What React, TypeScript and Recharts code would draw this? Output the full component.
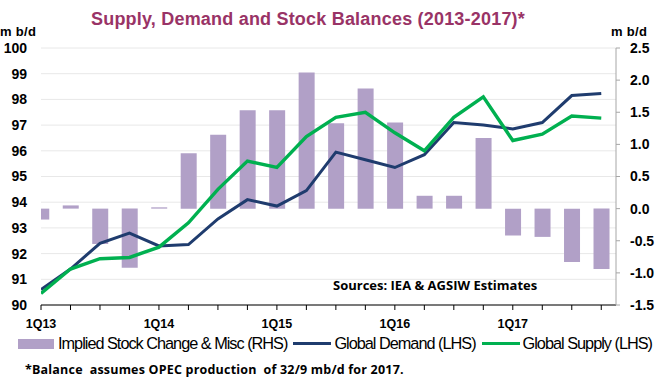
// Supply, demand and stock balances, 2013-2017: quarterly implied stock change
// bars on the right axis with global demand and supply lines on the left axis.

import { ComposedChart, Bar, Line, XAxis, YAxis, CartesianGrid } from "recharts";

const QUARTERS = [
  "1Q13", "2Q13", "3Q13", "4Q13",
  "1Q14", "2Q14", "3Q14", "4Q14",
  "1Q15", "2Q15", "3Q15", "4Q15",
  "1Q16", "2Q16", "3Q16", "4Q16",
  "1Q17", "2Q17", "3Q17", "4Q17",
];

const STOCK_CHANGE = [
  -0.17, 0.05, -0.55, -0.92,
  0.02, 0.86, 1.15, 1.53,
  1.53, 2.12, 1.33, 1.87,
  1.34, 0.2, 0.2, 1.1,
  -0.42, -0.44, -0.83, -0.94,
];

const DEMAND = [
  90.6, 91.4, 92.4, 92.8,
  92.3, 92.35, 93.35, 94.1,
  93.85, 94.45, 95.95, 95.65,
  95.35, 95.85, 97.1, 97.0,
  96.85, 97.1, 98.15, 98.23,
];

const SUPPLY = [
  90.45, 91.4, 91.8, 91.85,
  92.25, 93.2, 94.5, 95.6,
  95.35, 96.55, 97.3, 97.5,
  96.7, 96.0, 97.3, 98.1,
  96.4, 96.65, 97.35, 97.27,
];

const LEFT_TICKS = [90, 91, 92, 93, 94, 95, 96, 97, 98, 99, 100];
const RIGHT_TICKS = [-1.5, -1.0, -0.5, 0, 0.5, 1.0, 1.5, 2.0, 2.5];
const X_TICKS = QUARTERS.map((_, i) => i);

const data = QUARTERS.map((q, i) => ({
  i,
  quarter: q,
  stock: STOCK_CHANGE[i],
  demand: DEMAND[i],
  supply: SUPPLY[i],
}));

const BAR = "#b1a0c7";
const NAVY = "#1f3c6e";
const GREEN = "#00b050";
const AXIS_FONT = "'Liberation Sans', Arial, sans-serif";
const NOTE_FONT = "'Open Sans', 'Noto Sans', sans-serif";

const SERIES = [
  { key: "stock", label: "Implied Stock Change & Misc (RHS)", color: BAR, kind: "bar" },
  { key: "demand", label: "Global Demand (LHS)", color: NAVY, kind: "line" },
  { key: "supply", label: "Global Supply (LHS)", color: GREEN, kind: "line" },
] as const;

function ChartLegend() {
  return (
    <div style={{ position: "absolute", left: 18, top: 334, display: "flex", alignItems: "center", fontFamily: AXIS_FONT, fontSize: 16.3, letterSpacing: -1, color: "#000", whiteSpace: "nowrap" }}>
      {SERIES.map((s) => (
        <span key={s.key} style={{ display: "inline-flex", alignItems: "center", marginRight: 6 }}>
          {s.kind === "bar" ? (
            <span style={{ width: 36, height: 10, background: s.color, marginRight: 4 }} />
          ) : (
            <span style={{ width: 38, height: 3.5, background: s.color, marginRight: 3 }} />
          )}
          {s.label}
        </span>
      ))}
    </div>
  );
}

export default function App() {
  return (
    <div style={{ position: "absolute", left: 0, top: 0, width: 658, height: 385, background: "#fff" }}>
      <div style={{ position: "absolute", left: 0, top: 9, width: 616, textAlign: "center", fontFamily: AXIS_FONT, fontWeight: 700, fontSize: 18, letterSpacing: 0.2, color: "#993366" }}>
        Supply, Demand and Stock Balances (2013-2017)*
      </div>
      <div style={{ position: "absolute", left: 0, top: 24, fontFamily: AXIS_FONT, fontWeight: 700, fontSize: 13, letterSpacing: 0.3 }}>m b/d</div>
      <div style={{ position: "absolute", left: 611, top: 24, fontFamily: AXIS_FONT, fontWeight: 700, fontSize: 13, letterSpacing: 0.3 }}>m b/d</div>
      <div style={{ position: "absolute", left: 333, top: 276, fontFamily: NOTE_FONT, fontWeight: 700, fontSize: 13, letterSpacing: 0 }}>
        Sources: IEA &amp; AGSIW Estimates
      </div>
      <div style={{ position: "absolute", left: 25, top: 361, fontFamily: NOTE_FONT, fontWeight: 700, fontSize: 12.5, letterSpacing: 0.2, whiteSpace: "pre" }}>
        {"*Balance  assumes OPEC production  of 32/9 mb/d for 2017."}
      </div>
      <ChartLegend />
      <ComposedChart width={658} height={385} data={data} margin={{ top: 48, right: 0, bottom: 50, left: 0 }}>
        <CartesianGrid yAxisId="left" horizontal vertical={false} stroke="#e8e8e8" />
        <XAxis
          dataKey="i"
          type="number"
          domain={[0, 19.5]}
          ticks={X_TICKS}
          allowDataOverflow
          interval={0}
          height={30}
          tickSize={5}
          tickMargin={9}
          stroke="#000"
          tickFormatter={(v: number) => (v % 4 === 0 ? QUARTERS[v] : "")}
          tick={{ fontSize: 12.5, fontWeight: 700, fill: "#000", fontFamily: AXIS_FONT }}
        />
        <YAxis
          yAxisId="left"
          orientation="left"
          domain={[90, 100]}
          ticks={LEFT_TICKS}
          width={41}
          axisLine={false}
          tickLine={false}
          tickSize={0}
          tickMargin={14}
          tick={{ fontSize: 14, fontWeight: 700, fill: "#000", fontFamily: AXIS_FONT }}
        />
        <YAxis
          yAxisId="right"
          orientation="right"
          domain={[-1.5, 2.5]}
          ticks={RIGHT_TICKS}
          width={42}
          stroke="#a6a6a6"
          tickSize={4}
          tickMargin={10}
          tickFormatter={(v: number) => v.toFixed(1)}
          tick={{ fontSize: 14, fontWeight: 700, fill: "#000", fontFamily: AXIS_FONT }}
        />
        <Bar yAxisId="right" dataKey="stock" fill={BAR} barSize={16} isAnimationActive={false} />
        <Line yAxisId="left" dataKey="demand" type="linear" stroke={NAVY} strokeWidth={3} dot={false} isAnimationActive={false} />
        <Line yAxisId="left" dataKey="supply" type="linear" stroke={GREEN} strokeWidth={3.4} dot={false} isAnimationActive={false} />
      </ComposedChart>
    </div>
  );
}
